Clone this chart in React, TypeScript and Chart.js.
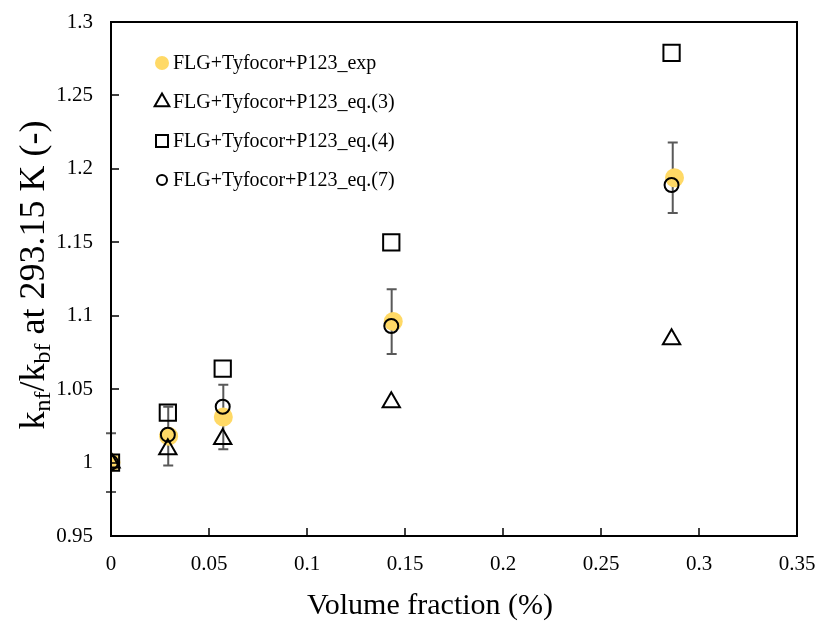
import React, { useEffect, useRef } from 'react';
import { Chart, registerables } from 'chart.js';

Chart.register(...registerables);

// ---- data ----
const xExp = [0, 0.0294, 0.0573, 0.144, 0.2875];
const yExp = [1.0, 1.018, 1.031, 1.096, 1.194];
const errExp = [0.02, 0.02, 0.022, 0.022, 0.024];
const xErr = [0, 0.0292, 0.0573, 0.1432, 0.2866];
const xEq = [0, 0.029, 0.057, 0.143, 0.286];
const yEq3 = [1.0, 1.009, 1.016, 1.041, 1.084];
const yEq4 = [1.0, 1.034, 1.064, 1.15, 1.279];
const yEq7 = [1.0, 1.019, 1.038, 1.093, 1.189];
const seriesLabels = [
  'FLG+Tyfocor+P123_exp',
  'FLG+Tyfocor+P123_eq.(3)',
  'FLG+Tyfocor+P123_eq.(4)',
  'FLG+Tyfocor+P123_eq.(7)',
];
const xTickValues = [0, 0.05, 0.1, 0.15, 0.2, 0.25, 0.3, 0.35];
const yTickValues = [0.95, 1, 1.05, 1.1, 1.15, 1.2, 1.25, 1.3];
const xTitle = 'Volume fraction (%)';

const FONT = '"Liberation Serif", "Times New Roman", serif';
const YELLOW = '#FFD966';

const fmt = (v: number) => String(parseFloat(Number(v).toFixed(3)));

function drawMarker(ctx: CanvasRenderingContext2D, style: string, x: number, y: number, r: number, fill: string | null) {
  ctx.beginPath();
  if (style === 'circle') {
    ctx.arc(x, y, r, 0, Math.PI * 2);
  } else if (style === 'triangle') {
    ctx.moveTo(x, y - r);
    ctx.lineTo(x + r * 0.866, y + r * 0.5);
    ctx.lineTo(x - r * 0.866, y + r * 0.5);
    ctx.closePath();
  } else {
    ctx.rect(x - r, y - r, 2 * r, 2 * r);
  }
  if (fill) {
    ctx.fillStyle = fill;
    ctx.fill();
  } else {
    ctx.strokeStyle = '#000';
    ctx.lineWidth = 2;
    ctx.stroke();
  }
}

const framePlugin = {
  id: 'frame',
  beforeDatasetsDraw(chart: any) {
    const ctx = chart.ctx as CanvasRenderingContext2D;
    const xs = chart.scales.x;
    const ys = chart.scales.y;
    ctx.save();
    ctx.strokeStyle = '#595959';
    ctx.lineWidth = 2;
    for (let i = 0; i < yExp.length; i++) {
      const px = xs.getPixelForValue(xErr[i]);
      const top = ys.getPixelForValue(yExp[i] + errExp[i]);
      const bot = ys.getPixelForValue(yExp[i] - errExp[i]);
      ctx.beginPath();
      ctx.moveTo(px, top);
      ctx.lineTo(px, bot);
      ctx.moveTo(px - 5, top);
      ctx.lineTo(px + 5, top);
      ctx.moveTo(px - 5, bot);
      ctx.lineTo(px + 5, bot);
      ctx.stroke();
    }
    ctx.restore();
  },
  afterDraw(chart: any) {
    const ctx = chart.ctx as CanvasRenderingContext2D;
    const a = chart.chartArea;
    const xs = chart.scales.x;
    const ys = chart.scales.y;
    ctx.save();
    ctx.strokeStyle = '#000';
    ctx.lineWidth = 1.5;
    ctx.beginPath();
    for (const v of xTickValues) {
      const px = Math.round(xs.getPixelForValue(v));
      ctx.moveTo(px, a.bottom);
      ctx.lineTo(px, a.bottom - 8);
    }
    for (const v of yTickValues) {
      const py = Math.round(ys.getPixelForValue(v));
      ctx.moveTo(a.left, py);
      ctx.lineTo(a.left + 8, py);
    }
    ctx.stroke();
    ctx.lineWidth = 2;
    ctx.strokeRect(a.left, a.top, a.right - a.left, a.bottom - a.top);

    // x-axis title
    ctx.font = `30px ${FONT}`;
    ctx.fillStyle = '#000';
    ctx.textAlign = 'center';
    ctx.textBaseline = 'middle';
    ctx.fillText(xTitle, 430, 606);

    // y-axis title with subscripts
    const big = 36;
    const small = 24;
    const parts: [string, boolean][] = [
      ['k', false], ['nf', true], ['/k', false], ['bf', true], [' at 293.15 K (-)', false],
    ];
    let total = 0;
    for (const [t, sub] of parts) {
      ctx.font = `${sub ? small : big}px ${FONT}`;
      total += ctx.measureText(t).width;
    }
    ctx.translate(20, (a.top + a.bottom) / 2 - 4);
    ctx.rotate(-Math.PI / 2);
    ctx.textBaseline = 'alphabetic';
    ctx.textAlign = 'left';
    let cx = -total / 2;
    for (const [t, sub] of parts) {
      ctx.font = `${sub ? small : big}px ${FONT}`;
      ctx.fillText(t, cx, sub ? 30 : 24);
      cx += ctx.measureText(t).width;
    }
    ctx.setTransform(1, 0, 0, 1, 0, 0);

    // legend
    const styles = ['circle', 'triangle', 'rect', 'circle'];
    const radii = [7, 8.5, 6, 5];
    ctx.font = `20px ${FONT}`;
    ctx.textBaseline = 'middle';
    for (let i = 0; i < seriesLabels.length; i++) {
      const ly = 63 + i * 39;
      drawMarker(ctx, styles[i], 162, ly, radii[i], i === 0 ? YELLOW : null);
      ctx.fillStyle = '#000';
      ctx.fillText(seriesLabels[i], 173, ly + 1);
    }
    ctx.restore();
  },
};

export default function App() {
  const ref = useRef<HTMLCanvasElement>(null);
  useEffect(() => {
    const toPts = (xs: number[], ys: number[]) => xs.map((x, i) => ({ x, y: ys[i] }));
    const chart = new Chart(ref.current as HTMLCanvasElement, {
      type: 'scatter',
      data: {
        datasets: [
          {
            label: seriesLabels[0],
            data: toPts(xExp, yExp),
            pointStyle: 'circle',
            pointRadius: 9.5,
            backgroundColor: YELLOW,
            borderWidth: 0,
            borderColor: YELLOW,
            order: 4,
          },
          {
            label: seriesLabels[1],
            data: toPts(xEq, yEq3),
            pointStyle: 'triangle',
            pointRadius: 10,
            backgroundColor: 'rgba(0,0,0,0)',
            borderColor: '#000',
            borderWidth: 2,
            order: 3,
          },
          {
            label: seriesLabels[2],
            data: toPts(xEq, yEq4),
            pointStyle: 'rect',
            pointRadius: 11.5,
            backgroundColor: 'rgba(0,0,0,0)',
            borderColor: '#000',
            borderWidth: 2,
            order: 2,
          },
          {
            label: seriesLabels[3],
            data: toPts(xEq, yEq7),
            pointStyle: 'circle',
            pointRadius: 7,
            backgroundColor: 'rgba(0,0,0,0)',
            borderColor: '#000',
            borderWidth: 2,
            order: 1,
          },
        ],
      },
      options: {
        responsive: false,
        animation: false,
        layout: { padding: { top: 22, right: 23, left: 0, bottom: 0 } },
        plugins: { legend: { display: false }, tooltip: { enabled: false } },
        scales: {
          x: {
            type: 'linear',
            min: 0,
            max: 0.35,
            afterBuildTicks: (s: any) => { s.ticks = xTickValues.map((v) => ({ value: v })); },
            afterFit: (s: any) => { s.height = 90; s.paddingLeft = 0; s.paddingRight = 0; },
            grid: { display: false, drawTicks: false },
            border: { display: false },
            ticks: {
              callback: (v: any) => fmt(v),
              font: { family: FONT, size: 21 },
              color: '#000',
              padding: 16,
              maxRotation: 0,
              autoSkip: false,
            },
          },
          y: {
            type: 'linear',
            min: 0.95,
            max: 1.3,
            afterBuildTicks: (s: any) => { s.ticks = yTickValues.map((v) => ({ value: v })); },
            afterFit: (s: any) => { s.width = 111; s.paddingTop = 0; s.paddingBottom = 0; },
            grid: { display: false, drawTicks: false },
            border: { display: false },
            ticks: {
              callback: (v: any) => fmt(v),
              font: { family: FONT, size: 21 },
              color: '#000',
              padding: 18,
              autoSkip: false,
            },
          },
        },
      },
      plugins: [framePlugin],
    } as any);
    return () => chart.destroy();
  }, []);
  return (
    <div style={{ position: 'fixed', left: 0, top: 0, width: 820, height: 626, background: '#fff' }}>
      <canvas ref={ref} width={820} height={626} style={{ display: 'block' }} />
    </div>
  );
}
